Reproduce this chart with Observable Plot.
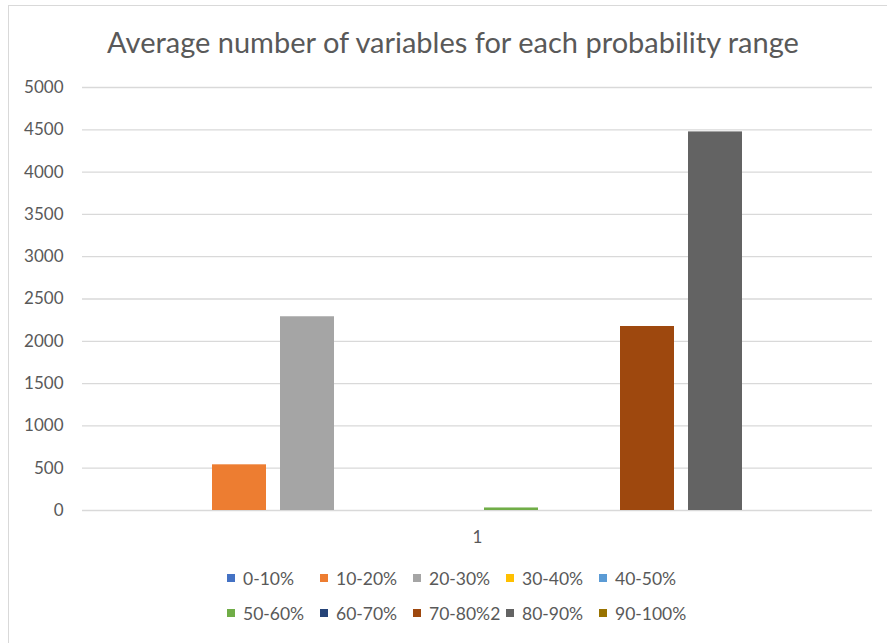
<!DOCTYPE html>
<html>
<head>
<meta charset="utf-8">
<script src="https://cdn.jsdelivr.net/npm/d3@7"></script>
<script src="https://cdn.jsdelivr.net/npm/@observablehq/plot@0.6"></script>
<style>
  html, body { margin: 0; padding: 0; background: #fff; }
  #wrap { position: relative; width: 887px; height: 643px; overflow: hidden; font-family: Lato, "Open Sans", sans-serif; color: #595959; }
  #frame { position: absolute; left: 8px; top: 5px; width: 900px; height: 700px; border-left: 1.5px solid #d9d9d9; border-top: 1.5px solid #d9d9d9; }
  #title { position: absolute; left: 0; width: 906px; top: 24px; text-align: center; font-size: 29px; line-height: 36px; white-space: nowrap; }
  #chart { position: absolute; left: 0; top: 70px; }
  #legend { position: absolute; left: 227px; top: 565px; display: grid; grid-template-columns: repeat(5, 93px); row-gap: 9px; font-size: 17.5px; }
  .item { display: flex; align-items: center; height: 26px; white-space: nowrap; }
  .sw { width: 8px; height: 8px; margin-right: 8px; flex: none; }
</style>
</head>
<body>
<div id="wrap">
  <div id="frame"></div>
  <div id="title">Average number of variables for each probability range</div>
  <div id="chart"></div>
  <div id="legend"></div>
</div>
<script>
const categories = ["1"];
const series = ["0-10%", "10-20%", "20-30%", "30-40%", "40-50%", "50-60%", "60-70%", "70-80%2", "80-90%", "90-100%"];
const values = [0, 540, 2290, 0, 0, 30, 0, 2175, 4475, 0];
const colors = ["#4472C4", "#ED7D31", "#A5A5A5", "#FFC000", "#5B9BD5", "#70AD47", "#264478", "#9E480E", "#636363", "#997300"];
const yTicks = [0, 500, 1000, 1500, 2000, 2500, 3000, 3500, 4000, 4500, 5000];

const data = series.map((s, i) => ({category: categories[0], series: s, value: values[i]}));

const chart = Plot.plot({
  width: 887,
  height: 490,
  marginTop: 17,
  marginBottom: 50,
  marginLeft: 82,
  marginRight: 15,
  style: {fontFamily: "Lato, 'Open Sans', sans-serif", fontSize: "17px", color: "#595959", background: "transparent"},
  fx: {domain: categories, padding: 0, label: null},
  x: {domain: series, paddingInner: 0.213, paddingOuter: 0.865, axis: null},
  y: {domain: [0, 5000], label: null},
  color: {domain: series, range: colors},
  marks: [
    Plot.gridY(yTicks, {stroke: "#d9d9d9", strokeOpacity: 1, strokeWidth: 1.3}),
    Plot.axisY(yTicks, {tickSize: 0, tickPadding: 19, fill: "#595959", label: null, tickFormat: d => String(d)}),
    Plot.axisFx({anchor: "bottom", tickSize: 0, tickPadding: 20, fill: "#595959", label: null}),
    Plot.barY(data, {fx: "category", x: "series", y: "value", fill: "series"})
  ]
});
document.getElementById("chart").appendChild(chart);

const legend = document.getElementById("legend");
series.forEach((s, i) => {
  const item = document.createElement("div");
  item.className = "item";
  const sw = document.createElement("span");
  sw.className = "sw";
  sw.style.background = colors[i];
  const label = document.createElement("span");
  label.textContent = s;
  item.appendChild(sw);
  item.appendChild(label);
  legend.appendChild(item);
});
</script>
</body>
</html>
